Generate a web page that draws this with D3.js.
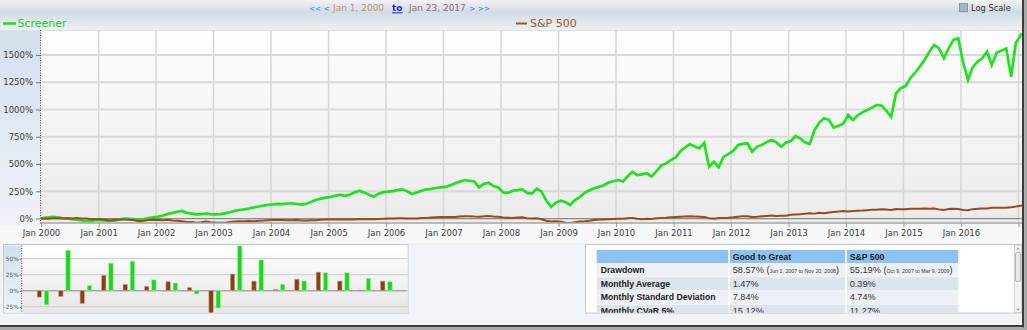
<!DOCTYPE html>
<html>
<head>
<meta charset="utf-8">
<script src="https://cdn.jsdelivr.net/npm/d3@7"></script>
<style>
  html, body { margin: 0; padding: 0; background: #f1f4f7; }
  svg { display: block; }
</style>
</head>
<body>
<svg id="chart" width="1027" height="330"></svg>
<script>
// ---------- data ----------
// Cumulative return (%) since Jan 1, 2000, one reading per mid-month, plus start and end points.
const screener = [
  0,
  3, 10, 15, 10, 5, 2, -5, -10, -18, -25, -22, -16,               // 2000
  -14, -20, -25, -18, -8, 0, -3, -6, -14, -6, 4, 12,              // 2001
  18, 28, 40, 52, 62, 69, 52, 45, 38, 40, 45, 40,                 // 2002
  38, 40, 47, 58, 70, 78, 84, 92, 102, 110, 118, 126,             // 2003
  130, 135, 132, 138, 139, 133, 128, 135, 155, 172, 182, 192,     // 2004
  198, 210, 216, 208, 218, 240, 255, 238, 218, 200, 228, 242,     // 2005
  246, 252, 260, 268, 250, 225, 238, 255, 268, 272, 280, 286,     // 2006
  290, 305, 323, 338, 353, 345, 340, 286, 318, 328, 298, 285,     // 2007
  240, 235, 255, 261, 268, 235, 228, 273, 246, 165, 108, 145,     // 2008
  163, 150, 124, 170, 195, 235, 258, 278, 290, 305, 330, 342,     // 2009
  353, 340, 385, 430, 399, 405, 415, 385, 435, 485, 506, 535,     // 2010
  560, 620, 650, 683, 660, 644, 695, 475, 521, 470, 565, 590,     // 2011
  620, 674, 685, 690, 613, 660, 674, 700, 720, 700, 659, 695,     // 2012
  710, 757, 736, 700, 683, 812, 880, 919, 904, 833, 850, 870,     // 2013
  950, 904, 945, 974, 995, 1017, 1041, 1035, 986, 934, 1149, 1195, // 2014
  1215, 1290, 1335, 1393, 1455, 1530, 1592, 1560, 1470, 1561, 1638, 1653, // 2015
  1430, 1271, 1385, 1439, 1470, 1530, 1408, 1520, 1540, 1560, 1300, 1610, // 2016
  1700
];
const sp500 = [
  0,
  0, -3, 3, 2, 0, 2, 0, 5, 1, 0, -6, -7,                          // 2000
  -6, -12, -18, -12, -8, -10, -12, -16, -24, -20, -14, -12,       // 2001
  -14, -16, -12, -18, -20, -26, -32, -31, -38, -34, -28, -33,     // 2002
  -37, -38, -38, -32, -28, -26, -25, -23, -24, -20, -19, -16,     // 2003
  -14, -13, -14, -16, -15, -14, -17, -17, -16, -15, -12, -9,      // 2004
  -9, -10, -8, -10, -9, -8, -5, -6, -6, -7, -4, -2,               // 2005
  0, 1, 2, 3, 0, 0, 1, 4, 6, 9, 11, 13,                           // 2006
  14, 15, 13, 18, 22, 20, 18, 17, 20, 24, 19, 16,                 // 2007
  10, 7, 5, 9, 11, 3, 0, 2, -6, -20, -28, -26,                    // 2008
  -30, -38, -42, -34, -27, -24, -20, -14, -10, -8, -6, -4,        // 2009
  -2, -3, 2, 6, -2, -6, -2, -5, 2, 6, 8, 12,                      // 2010
  14, 16, 18, 20, 19, 17, 15, 2, -2, 5, 6, 8,                     // 2011
  12, 17, 22, 20, 14, 16, 20, 24, 27, 24, 25, 26,                 // 2012
  34, 37, 40, 44, 48, 45, 52, 48, 55, 60, 64, 68,                 // 2013
  64, 70, 72, 74, 77, 80, 80, 84, 82, 78, 88, 86,                 // 2014
  85, 90, 89, 90, 92, 89, 92, 84, 78, 88, 90, 88,                 // 2015
  78, 76, 86, 90, 92, 92, 98, 100, 99, 98, 104, 110,              // 2016
  120
];
const seriesNames = ["Screener", "S&P 500"];
const yTicks = [0, 250, 500, 750, 1000, 1250, 1500];

// Calendar-year returns (%)
const barYears = [2000, 2001, 2002, 2003, 2004, 2005, 2006, 2007, 2008, 2009, 2010, 2011, 2012, 2013, 2014, 2015, 2016];
const spAnnual = [-10, -9, -20, 24, 10, 7, 14, 5, -37, 26, 15, 2, 18, 29, 15, 1, 15];
const screenerAnnual = [-22, 63, 8, 43, 46, 17, 12, -5, -27, 70, 48, 10, 15, 28, 28, 19, 14];
const barTicks = [-25, 0, 25, 50];

// Risk statistics table
const statColumns = ["Good to Great", "S&P 500"];
const statRows = ["Drawdown", "Monthly Average", "Monthly Standard Deviation", "Monthly CVaR 5%"];
const goodToGreatStats = ["58.57%", "1.47%", "7.84%", "15.12%"];
const sp500Stats = ["55.19%", "0.39%", "4.74%", "11.27%"];
const drawdownPeriods = ["Jun 1, 2007 to Nov 20, 2008", "Oct 9, 2007 to Mar 9, 2009"];

// ---------- dates ----------
const startDate = new Date(2000, 0, 1);
const endDate = new Date(2017, 0, 23);
const midMonths = d3.timeMonth.range(startDate, new Date(2017, 0, 1)).map(m => d3.timeDay.offset(m, 14));
const dates = [startDate, ...midMonths, endDate];

const svg = d3.select("#chart");
const defs = svg.append("defs");

function vGrad(id, stops) {
  const g = defs.append("linearGradient").attr("id", id)
    .attr("x1", 0).attr("y1", 0).attr("x2", 0).attr("y2", 1);
  stops.forEach(([o, c]) => g.append("stop").attr("offset", o).attr("stop-color", c));
}
vGrad("hdr", [[0, "#f0f2f5"], [0.4, "#d3dbe2"], [0.75, "#e3e8ed"], [1, "#edf1f4"]]);
vGrad("plotBg", [[0, "#fefefe"], [1, "#ebebeb"]]);
vGrad("axisBg", [[0, "#d3e0ed"], [1, "#eef3f8"]]);
vGrad("barBg", [[0, "#ffffff"], [1, "#e6e6e6"]]);

// ---------- layout ----------
const M = { left: 41, right: 1022, top: 30, bottom: 223 };

// header band
svg.append("rect").attr("x", 0).attr("y", 0).attr("width", 1027).attr("height", 30).attr("fill", "url(#hdr)");
svg.append("rect").attr("x", 0).attr("y", 223).attr("width", 1027).attr("height", 20).attr("fill", "#f7f8fa");

// left axis panel
svg.append("rect").attr("x", 0).attr("y", M.top).attr("width", M.left).attr("height", 196).attr("fill", "url(#axisBg)");
// plot background
svg.append("rect").attr("x", M.left).attr("y", M.top).attr("width", M.right - M.left).attr("height", M.bottom - M.top)
  .attr("fill", "url(#plotBg)");
svg.append("line").attr("x1", 0).attr("x2", M.right).attr("y1", M.top + 0.5).attr("y2", M.top + 0.5)
  .attr("stroke", "#d8e0e8");

const x = d3.scaleTime().domain([startDate, endDate]).range([M.left, M.right]);
const y = d3.scaleLinear().domain([-41, 1729]).range([M.bottom, M.top]);

// grid
const yearTicks = d3.timeYear.range(new Date(2001, 0, 1), new Date(2017, 0, 2));
svg.append("g").selectAll("line").data(yearTicks).join("line")
  .attr("x1", d => x(d)).attr("x2", d => x(d)).attr("y1", M.top).attr("y2", M.bottom)
  .attr("stroke", "#d6d6d6").attr("stroke-width", 1.5);
svg.append("g").selectAll("line").data(yTicks.filter(v => v !== 0)).join("line")
  .attr("x1", M.left).attr("x2", M.right).attr("y1", d => y(d)).attr("y2", d => y(d))
  .attr("stroke", "#d9d9d9").attr("stroke-width", 2);
svg.append("line").attr("x1", M.left).attr("x2", M.right).attr("y1", y(0)).attr("y2", y(0))
  .attr("stroke", "#8a8a8a").attr("stroke-width", 1.2);

// lines
defs.append("clipPath").attr("id", "plotClip").append("rect")
  .attr("x", M.left).attr("y", M.top).attr("width", M.right - M.left).attr("height", M.bottom - M.top);
const line = d3.line().x((d, i) => x(dates[i])).y(d => y(d));
const lines = svg.append("g").attr("clip-path", "url(#plotClip)");
lines.append("path").datum(screener).attr("d", line).attr("fill", "none")
  .attr("stroke", "#1ee21e").attr("stroke-width", 2.7).attr("stroke-linejoin", "miter");
lines.append("path").datum(sp500).attr("d", line).attr("fill", "none")
  .attr("stroke", "#984a18").attr("stroke-width", 2).attr("stroke-linejoin", "round");

// x axis
svg.append("line").attr("x1", M.left).attr("x2", M.right).attr("y1", M.bottom).attr("y2", M.bottom)
  .attr("stroke", "#a6a6a6").attr("stroke-width", 1.5);
const xAxis = svg.append("g").attr("transform", `translate(0,${M.bottom})`)
  .call(d3.axisBottom(x).ticks(d3.timeYear.every(1)).tickSize(4)
    .tickFormat(d => d.getFullYear() <= 2016 ? d3.timeFormat("Jan %Y")(d) : ""));
xAxis.select(".domain").remove();
xAxis.selectAll("line").attr("stroke", "#9a9a9a");
xAxis.selectAll("text").attr("font-family", "DejaVu Sans").attr("font-size", 8.5).attr("fill", "#3c3c3c").attr("y", 7);

// y axis
const yAxis = svg.append("g").attr("transform", `translate(${M.left},0)`)
  .call(d3.axisLeft(y).tickValues(yTicks).tickSize(5).tickFormat(d => d + "%"));
yAxis.select(".domain").remove();
yAxis.selectAll("line").attr("stroke", "#777");
yAxis.selectAll("text").attr("font-family", "DejaVu Sans").attr("font-size", 8.5).attr("fill", "#3c3c3c");
svg.append("line").attr("x1", M.left - 0.5).attr("x2", M.left - 0.5).attr("y1", M.top).attr("y2", M.bottom + 2)
  .attr("stroke", "#555").attr("stroke-dasharray", "1,1.5");

// header: date range
const hdrFont = "DejaVu Sans";
function hText(txt, xx, color, weight, size) {
  return svg.append("text").attr("x", xx).attr("y", 11).attr("font-family", hdrFont).attr("font-size", size || 9)
    .attr("font-weight", weight || "normal").attr("fill", color).text(txt);
}
hText("<<", 309, "#4f6ef0", null, 7.2);
hText("<", 323.5, "#4f6ef0", null, 7.2);
hText("Jan 1, 2000", 333, "#b4987a");
hText("to", 392, "#2424c4", "bold");
svg.append("line").attr("x1", 392).attr("x2", 402.5).attr("y1", 12.8).attr("y2", 12.8).attr("stroke", "#2424c4");
hText("Jan 23, 2017", 409, "#8a6e80");
hText(">", 469.5, "#4f6ef0", null, 7.2);
hText(">>", 478, "#4f6ef0", null, 7.2);

// legend
const legendItems = [
  { name: seriesNames[0], x: 3, stroke: "#1ee21e", text: "#22cf22" },
  { name: seriesNames[1], x: 516, stroke: "#a0562a", text: "#a0582c" }
];
legendItems.forEach((d, i) => {
  svg.append("line").attr("x1", d.x).attr("x2", d.x + (i ? 11 : 13)).attr("y1", 23.5).attr("y2", 23.5)
    .attr("stroke", d.stroke).attr("stroke-width", i ? 2 : 2.5);
  svg.append("text").attr("x", d.x + (i ? 14 : 14.5)).attr("y", 27.3).attr("font-family", hdrFont)
    .attr("font-size", 11).attr("fill", d.text).text(d.name);
});

// log scale toggle
svg.append("rect").attr("x", 959.5).attr("y", 3.5).attr("width", 8).attr("height", 8)
  .attr("fill", "#aab5c0").attr("stroke", "#8995a1");
svg.append("text").attr("x", 971).attr("y", 11.2).attr("font-family", hdrFont).attr("font-size", 8.3)
  .attr("fill", "#333").text("Log Scale");

// ---------- annual returns panel ----------
const B = { left: 21.7, right: 407.5, top: 245.5, bottom: 312.5 };
svg.append("rect").attr("x", 3.5).attr("y", 244.5).attr("width", 404.5).attr("height", 68.5)
  .attr("fill", "#fff").attr("stroke", "#c6cace");
svg.append("rect").attr("x", 4).attr("y", B.top).attr("width", B.left - 4).attr("height", B.bottom - B.top)
  .attr("fill", "url(#axisBg)");
svg.append("rect").attr("x", B.left).attr("y", B.top).attr("width", B.right - B.left).attr("height", B.bottom - B.top)
  .attr("fill", "url(#barBg)");
const xb = d3.scaleLinear().domain([1999, 2017]).range([B.left, 408]);
const yb = d3.scaleLinear().domain([-32.8, 69.8]).range([311.7, 246]);
svg.append("g").selectAll("line").data(barTicks.filter(v => v !== 0)).join("line")
  .attr("x1", B.left).attr("x2", B.right).attr("y1", d => yb(d)).attr("y2", d => yb(d))
  .attr("stroke", "#d4d4d4").attr("stroke-width", 1.2);
svg.append("line").attr("x1", B.left).attr("x2", B.right).attr("y1", yb(0)).attr("y2", yb(0))
  .attr("stroke", "#a8a8a8").attr("stroke-width", 1.4);
defs.append("clipPath").attr("id", "barClip").append("rect")
  .attr("x", B.left).attr("y", B.top).attr("width", B.right - B.left).attr("height", B.bottom - B.top);
const bars = svg.append("g").attr("clip-path", "url(#barClip)");
bars.selectAll("rect.sp").data(spAnnual).join("rect").attr("class", "sp")
  .attr("x", (d, i) => xb(barYears[i]) - 6).attr("width", 4.4)
  .attr("y", d => yb(Math.max(0, d))).attr("height", d => Math.abs(yb(d) - yb(0)))
  .attr("fill", "#874214").attr("stroke", "#d2ab90").attr("stroke-width", 0.6);
bars.selectAll("rect.sc").data(screenerAnnual).join("rect").attr("class", "sc")
  .attr("x", (d, i) => xb(barYears[i]) + 1.2).attr("width", 4.4)
  .attr("y", d => yb(Math.max(0, d))).attr("height", d => Math.abs(yb(d) - yb(0)))
  .attr("fill", "#1fd61f").attr("stroke", "#a6eea6").attr("stroke-width", 0.6);
const bAxis = svg.append("g").attr("transform", `translate(${B.left},0)`)
  .call(d3.axisLeft(yb).tickValues(barTicks).tickSize(2).tickFormat(d => d + "%"));
bAxis.select(".domain").remove();
bAxis.selectAll("line").attr("stroke", "#777");
bAxis.selectAll("text").attr("font-family", "DejaVu Sans").attr("font-size", 5.8).attr("fill", "#555").attr("x", -3);
svg.append("line").attr("x1", B.left).attr("x2", B.left).attr("y1", B.top).attr("y2", B.bottom)
  .attr("stroke", "#555").attr("stroke-dasharray", "1,1.5");

// ---------- statistics table ----------
svg.append("rect").attr("x", 585.5).attr("y", 244.5).attr("width", 436).attr("height", 68.5)
  .attr("fill", "#fff").attr("stroke", "#c6cace");
defs.append("clipPath").attr("id", "tblClip").append("rect")
  .attr("x", 586).attr("y", 245).attr("width", 428).attr("height", 67.8);
const tbl = svg.append("g").attr("clip-path", "url(#tblClip)");
const colX = [596.7, 729, 846, 958.3];
const rowTop = [250, 263.5, 277.2, 290.9, 304.6];
const rowFill = ["#8dc3f2", "#edf1f5", "#dde4eb", "#edf1f5", "#dde4eb"];
rowTop.forEach((t, r) => {
  tbl.append("rect").attr("x", colX[0]).attr("y", t).attr("width", colX[3] - colX[0]).attr("height", 13.2)
    .attr("fill", rowFill[r]);
});
[colX[1], colX[2]].forEach(cx => {
  tbl.append("line").attr("x1", cx).attr("x2", cx).attr("y1", 250).attr("y2", 320)
    .attr("stroke", "#fff").attr("stroke-width", 1.6);
});
const tFont = "Liberation Sans";
statColumns.forEach((c, i) => {
  tbl.append("text").attr("x", colX[i + 1] + 3.7).attr("y", 259.6).attr("font-family", tFont)
    .attr("font-size", 8.7).attr("font-weight", "bold").attr("fill", "#1a1a1a").text(c);
});
const baseY = [273, 286.7, 300.4, 314];
statRows.forEach((rname, r) => {
  tbl.append("text").attr("x", colX[0] + 4).attr("y", baseY[r]).attr("font-family", tFont)
    .attr("font-size", 8.7).attr("font-weight", "bold").attr("fill", "#1a1a1a").text(rname);
  [goodToGreatStats, sp500Stats].forEach((vals, c) => {
    const t = tbl.append("text").attr("x", colX[c + 1] + 3.7).attr("y", baseY[r]).attr("font-family", tFont)
      .attr("font-size", 9.2).attr("fill", "#333");
    t.append("tspan").text(vals[r]);
    if (r === 0) {
      t.append("tspan").text(" (");
      t.append("tspan").attr("font-size", 5.3).text(drawdownPeriods[c]);
      t.append("tspan").text(")");
    }
  });
});
// scrollbar
svg.append("rect").attr("x", 1014.5).attr("y", 245.5).attr("width", 7).attr("height", 67)
  .attr("fill", "#f3f3f3").attr("stroke", "#d6d6d6");
svg.append("rect").attr("x", 1015.5).attr("y", 252.5).attr("width", 5).attr("height", 29).attr("rx", 1.5)
  .attr("fill", "#e9e9e9").attr("stroke", "#b4b4b4");
svg.append("path").attr("d", "M1016.3,249.5 L1018,247.6 L1019.7,249.5 Z").attr("fill", "#9a9a9a");
svg.append("path").attr("d", "M1016.3,308.8 L1018,310.7 L1019.7,308.8 Z").attr("fill", "#9a9a9a");

// window shadow
svg.append("rect").attr("x", 1022).attr("y", 0).attr("width", 2.2).attr("height", 330).attr("fill", "#3c3c3c");
svg.append("rect").attr("x", 1024.2).attr("y", 0).attr("width", 2.8).attr("height", 330).attr("fill", "#a8a8a8");
svg.append("rect").attr("x", 0).attr("y", 325).attr("width", 1024).attr("height", 2.2).attr("fill", "#3c3c3c");
svg.append("rect").attr("x", 0).attr("y", 327.2).attr("width", 1027).attr("height", 2.8).attr("fill", "#a8a8a8");
</script>
</body>
</html>
